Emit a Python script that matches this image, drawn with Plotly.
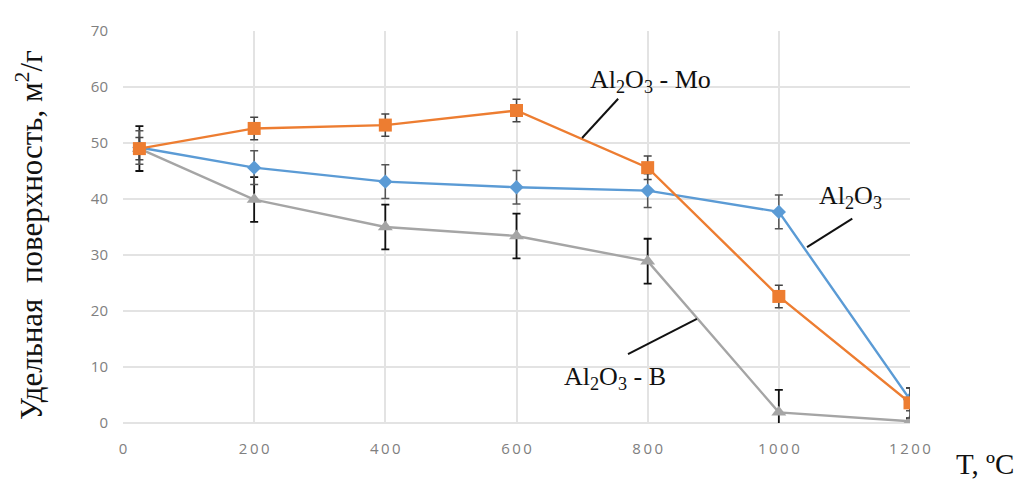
import plotly.graph_objects as go

T = [25, 200, 400, 600, 800, 1000, 1200]
al2o3 = [49.2, 45.6, 43.1, 42.1, 41.5, 37.7, 4.2]
al2o3_err = [3, 3, 3, 3, 3, 3, 2]
al2o3_mo = [49.0, 52.6, 53.2, 55.8, 45.6, 22.6, 3.6]
al2o3_mo_err = [2, 2, 2, 2, 2.1, 2, 2.7]
al2o3_b = [49.0, 39.9, 35.0, 33.4, 28.9, 1.9, 0.3]
al2o3_b_err = [4, 4, 4, 4, 4, 4, 0.5]

x_ticks = [0, 200, 400, 600, 800, 1000, 1200]
y_ticks = [0, 10, 20, 30, 40, 50, 60, 70]

ORANGE = "#ED7D31"
BLUE = "#5B9BD5"
GRAY = "#A5A5A5"

fig = go.Figure()
fig.add_trace(go.Scatter(
    x=T, y=al2o3_b, mode="lines+markers", name="Al2O3 - B",
    line=dict(color=GRAY, width=2.4),
    marker=dict(symbol="triangle-up", size=13, color=GRAY),
    error_y=dict(type="data", array=al2o3_b_err, color="#111111", thickness=1.8, width=4),
))
fig.add_trace(go.Scatter(
    x=T, y=al2o3, mode="lines+markers", name="Al2O3",
    line=dict(color=BLUE, width=2.4),
    marker=dict(symbol="diamond", size=11, color=BLUE),
    error_y=dict(type="data", array=al2o3_err, color="#555555", thickness=1.5, width=4),
))
fig.add_trace(go.Scatter(
    x=T, y=al2o3_mo, mode="lines+markers", name="Al2O3 - Mo",
    line=dict(color=ORANGE, width=2.4),
    marker=dict(symbol="square", size=13, color=ORANGE),
    error_y=dict(type="data", array=al2o3_mo_err, color="#444444", thickness=1.5, width=4),
))

serif = "Liberation Serif, Times New Roman, serif"

# leader lines
leaders = [
    ((755, 57.9), (700, 50.9)),
    ((1112, 36.5), (1043, 31.4)),
    ((875, 18.6), (770, 12.3)),
]
for (x0, y0), (x1, y1) in leaders:
    fig.add_shape(type="line", x0=x0, y0=y0, x1=x1, y1=y1, xref="x", yref="y",
                  line=dict(color="#111111", width=2))

labels = [
    ("Al<sub>2</sub>O<sub>3</sub> - Mo", 804, 61.0),
    ("Al<sub>2</sub>O<sub>3</sub>", 1110, 40.3),
    ("Al<sub>2</sub>O<sub>3</sub> - B", 750, 8.0),
]
for txt, x, y in labels:
    fig.add_annotation(x=x, y=y, xref="x", yref="y", text=txt, showarrow=False,
                       xanchor="center", yanchor="middle",
                       font=dict(family=serif, size=26, color="#111111"))

fig.add_annotation(x=-0.118, y=0.48, xref="paper", yref="paper",
                   text="Удельная\u00a0\u00a0поверхность, м<sup>2</sup>/г",
                   textangle=-90, showarrow=False, xanchor="center", yanchor="middle",
                   font=dict(family=serif, size=31, color="#111111"))
fig.add_annotation(x=1.095, y=-0.105, xref="paper", yref="paper",
                   text="T, ºC", showarrow=False, xanchor="center", yanchor="middle",
                   font=dict(family=serif, size=29, color="#111111"))

sp = "\u2009"
fig.update_layout(
    width=1014, height=479,
    margin=dict(l=115, r=112, t=16, b=64),
    paper_bgcolor="white", plot_bgcolor="white",
    showlegend=False,
)
fig.update_xaxes(range=[0, 1200], tickvals=x_ticks,
                 ticktext=[sp.join(str(v)) for v in x_ticks],
                 showgrid=True, gridcolor="#e3e3e3", gridwidth=1.5, zeroline=False,
                 showline=False, ticks="", ticklabelstandoff=15,
                 tickfont=dict(family="Open Sans, sans-serif", size=15, color="#808080"))
fig.update_yaxes(range=[0, 70], tickvals=y_ticks,
                 showgrid=True, gridcolor="#e3e3e3", gridwidth=1.5, zeroline=True,
                 zerolinecolor="#e3e3e3", zerolinewidth=1.5, showline=False, ticks="",
                 ticklabelstandoff=14,
                 tickfont=dict(family="Open Sans, sans-serif", size=15, color="#808080"))

fig.write_html("out.html")
